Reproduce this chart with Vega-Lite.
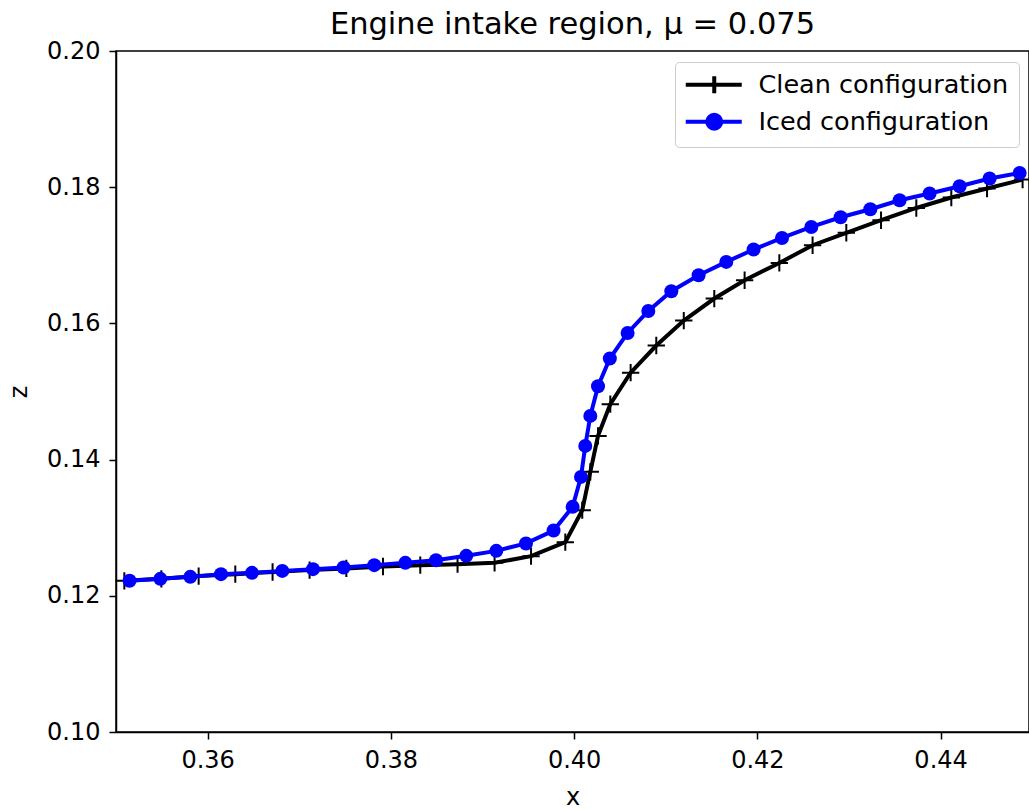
{
  "$schema": "https://vega.github.io/schema/vega-lite/v6.json",
  "width": 913,
  "height": 681,
  "autosize": {"type": "none"},
  "padding": {"left": 116, "top": 51, "right": 0, "bottom": 78},
  "background": "white",
  "title": {"text": "Engine intake region, μ = 0.075", "font": "DejaVu Sans", "fontSize": 30.5, "fontWeight": "normal", "color": "black", "anchor": "middle", "offset": -1},
  "data": {"values": [
    {"series": "Clean configuration", "x": 0.35091, "z": 0.12220},
    {"series": "Clean configuration", "x": 0.35495, "z": 0.12249},
    {"series": "Clean configuration", "x": 0.35902, "z": 0.12289},
    {"series": "Clean configuration", "x": 0.36302, "z": 0.12318},
    {"series": "Clean configuration", "x": 0.36709, "z": 0.12350},
    {"series": "Clean configuration", "x": 0.37113, "z": 0.12377},
    {"series": "Clean configuration", "x": 0.37514, "z": 0.12402},
    {"series": "Clean configuration", "x": 0.37914, "z": 0.12430},
    {"series": "Clean configuration", "x": 0.38321, "z": 0.12450},
    {"series": "Clean configuration", "x": 0.38728, "z": 0.12465},
    {"series": "Clean configuration", "x": 0.39132, "z": 0.12484},
    {"series": "Clean configuration", "x": 0.39530, "z": 0.12582},
    {"series": "Clean configuration", "x": 0.39904, "z": 0.12788},
    {"series": "Clean configuration", "x": 0.40089, "z": 0.13257},
    {"series": "Clean configuration", "x": 0.40177, "z": 0.13820},
    {"series": "Clean configuration", "x": 0.40261, "z": 0.14348},
    {"series": "Clean configuration", "x": 0.40395, "z": 0.14814},
    {"series": "Clean configuration", "x": 0.40617, "z": 0.15276},
    {"series": "Clean configuration", "x": 0.40897, "z": 0.15675},
    {"series": "Clean configuration", "x": 0.41197, "z": 0.16042},
    {"series": "Clean configuration", "x": 0.41530, "z": 0.16365},
    {"series": "Clean configuration", "x": 0.41861, "z": 0.16634},
    {"series": "Clean configuration", "x": 0.42240, "z": 0.16888},
    {"series": "Clean configuration", "x": 0.42603, "z": 0.17148},
    {"series": "Clean configuration", "x": 0.42971, "z": 0.17331},
    {"series": "Clean configuration", "x": 0.43350, "z": 0.17515},
    {"series": "Clean configuration", "x": 0.43735, "z": 0.17695},
    {"series": "Clean configuration", "x": 0.44117, "z": 0.17848},
    {"series": "Clean configuration", "x": 0.44507, "z": 0.17980},
    {"series": "Clean configuration", "x": 0.44895, "z": 0.18112},
    {"series": "Iced configuration", "x": 0.35148, "z": 0.12220},
    {"series": "Iced configuration", "x": 0.35484, "z": 0.12249},
    {"series": "Iced configuration", "x": 0.35811, "z": 0.12278},
    {"series": "Iced configuration", "x": 0.36146, "z": 0.12318},
    {"series": "Iced configuration", "x": 0.36484, "z": 0.12337},
    {"series": "Iced configuration", "x": 0.36815, "z": 0.12366},
    {"series": "Iced configuration", "x": 0.37150, "z": 0.12391},
    {"series": "Iced configuration", "x": 0.37484, "z": 0.12416},
    {"series": "Iced configuration", "x": 0.37819, "z": 0.12450},
    {"series": "Iced configuration", "x": 0.38158, "z": 0.12484},
    {"series": "Iced configuration", "x": 0.38493, "z": 0.12523},
    {"series": "Iced configuration", "x": 0.38823, "z": 0.12587},
    {"series": "Iced configuration", "x": 0.39151, "z": 0.12660},
    {"series": "Iced configuration", "x": 0.39475, "z": 0.12769},
    {"series": "Iced configuration", "x": 0.39776, "z": 0.12958},
    {"series": "Iced configuration", "x": 0.39984, "z": 0.13306},
    {"series": "Iced configuration", "x": 0.40075, "z": 0.13746},
    {"series": "Iced configuration", "x": 0.40122, "z": 0.14201},
    {"series": "Iced configuration", "x": 0.40177, "z": 0.14642},
    {"series": "Iced configuration", "x": 0.40261, "z": 0.15078},
    {"series": "Iced configuration", "x": 0.40390, "z": 0.15484},
    {"series": "Iced configuration", "x": 0.40584, "z": 0.15860},
    {"series": "Iced configuration", "x": 0.40810, "z": 0.16183},
    {"series": "Iced configuration", "x": 0.41061, "z": 0.16472},
    {"series": "Iced configuration", "x": 0.41359, "z": 0.16707},
    {"series": "Iced configuration", "x": 0.41661, "z": 0.16903},
    {"series": "Iced configuration", "x": 0.41959, "z": 0.17085},
    {"series": "Iced configuration", "x": 0.42269, "z": 0.17255},
    {"series": "Iced configuration", "x": 0.42589, "z": 0.17416},
    {"series": "Iced configuration", "x": 0.42909, "z": 0.17559},
    {"series": "Iced configuration", "x": 0.43233, "z": 0.17676},
    {"series": "Iced configuration", "x": 0.43553, "z": 0.17808},
    {"series": "Iced configuration", "x": 0.43880, "z": 0.17907},
    {"series": "Iced configuration", "x": 0.44208, "z": 0.18014},
    {"series": "Iced configuration", "x": 0.44535, "z": 0.18127},
    {"series": "Iced configuration", "x": 0.44863, "z": 0.18209}
  ]},
  "encoding": {
    "x": {"field": "x", "type": "quantitative",
      "scale": {"domain": [0.35, 0.44965], "nice": false, "zero": false},
      "axis": {"values": [0.36, 0.38, 0.40, 0.42, 0.44], "format": ".2f", "title": "x", "grid": false}},
    "y": {"field": "z", "type": "quantitative",
      "scale": {"domain": [0.10, 0.20], "nice": false, "zero": false},
      "axis": {"values": [0.10, 0.12, 0.14, 0.16, 0.18, 0.20], "format": ".2f", "title": "z", "grid": false}}
  },
  "layer": [
    {
      "transform": [{"filter": "datum.series === 'Clean configuration'"}],
      "mark": {"type": "line", "strokeWidth": 4},
      "encoding": {"color": {"field": "series", "type": "nominal",
        "scale": {"domain": ["Clean configuration", "Iced configuration"], "range": ["black", "blue"]},
        "legend": {
          "title": null, "orient": "none", "legendX": 559, "legendY": 11,
          "symbolSize": 400, "symbolStrokeWidth": 4,
          "labelFont": "DejaVu Sans", "labelFontSize": 25.5, "labelColor": "black", "labelOffset": 48, "labelLimit": 500,
          "padding": 10, "rowPadding": 4,
          "strokeColor": "#cccccc", "fillColor": "white", "cornerRadius": 4,
          "encode": {"symbols": {"update": {
            "shape": {"signal": "datum.label === 'Iced configuration' ? 'M-1.2,0L4.4,0M2.35,0A0.7,0.7 0 1,1 0.95,0A0.7,0.7 0 1,1 2.35,0Z' : 'M-1.2,0L4.4,0M1.65,-0.85L1.65,0.85'"},
            "fill": {"signal": "datum.label === 'Iced configuration' ? 'blue' : 'transparent'"},
            "strokeWidth": {"value": 4},
            "opacity": {"value": 1}
          }}}
        }}}
    },
    {
      "transform": [{"filter": "datum.series === 'Clean configuration'"}],
      "mark": {"type": "point", "shape": "M-1,0L1,0M0,-1L0,1", "size": 300, "strokeWidth": 2, "filled": false, "opacity": 1, "color": "black"}
    },
    {
      "transform": [{"filter": "datum.series === 'Iced configuration'"}],
      "mark": {"type": "line", "strokeWidth": 4},
      "encoding": {"color": {"field": "series", "type": "nominal",
        "scale": {"domain": ["Clean configuration", "Iced configuration"], "range": ["black", "blue"]}}}
    },
    {
      "transform": [{"filter": "datum.series === 'Iced configuration'"}],
      "mark": {"type": "point", "shape": "circle", "size": 196, "filled": true, "opacity": 1, "color": "blue"}
    }
  ],
  "config": {
    "view": {"stroke": "black", "strokeWidth": 1.5},
    "axis": {
      "domainColor": "black", "domainWidth": 1.5,
      "tickColor": "black", "tickWidth": 1.5, "tickSize": 7,
      "labelFont": "DejaVu Sans", "labelFontSize": 24, "labelColor": "black", "labelPadding": 9,
      "titleFont": "DejaVu Sans", "titleFontSize": 24, "titleFontWeight": "normal", "titleColor": "black"
    },
    "axisX": {"titlePadding": 13},
    "axisY": {"titlePadding": 15}
  }
}
